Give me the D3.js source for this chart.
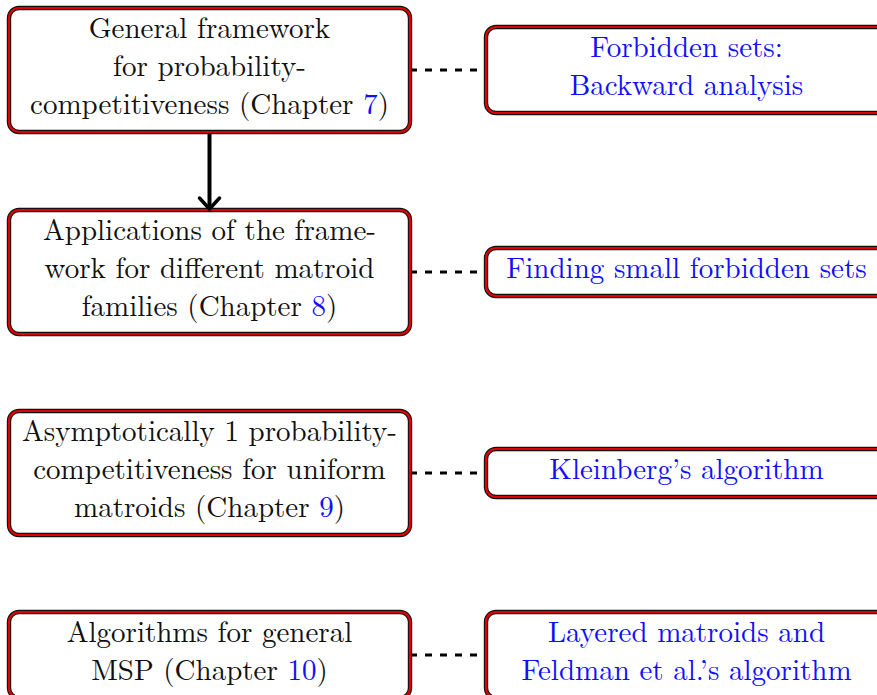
<!DOCTYPE html>
<html><head><meta charset="utf-8">
<script src="https://cdn.jsdelivr.net/npm/d3@7"></script>
<style>html,body{margin:0;padding:0;background:#fff;overflow:hidden}</style>
</head><body><svg id="c" width="877" height="695"></svg>
<script>
// Data: left boxes (chapters), right boxes (topics); {n} marks blue chapter numbers
const leftBoxes = [
  ["General framework", "for probability-", "competitiveness (Chapter {7})"],
  ["Applications of the frame-", "work for different matroid", "families (Chapter {8})"],
  ["Asymptotically 1 probability-", "competitiveness for uniform", "matroids (Chapter {9})"],
  ["Algorithms for general", "MSP (Chapter {10})"]
];
const rightBoxes = [
  ["Forbidden sets:", "Backward analysis"],
  ["Finding small forbidden sets"],
  ["Kleinberg\u2019s algorithm"],
  ["Layered matroids and", "Feldman et al.\u2019s algorithm"]
];
const rowCenters = [70, 272, 473, 655];
const arrows = [[0, 1]]; // left box 0 -> left box 1

const svg = d3.select("#c");
const lineH = 38, pad = 10;
const leftX = 9, boxW = 401, rightX = 486;
const fontFam = '"Latin Modern Roman", "Liberation Serif", serif';
const fs = 29;
const blue = "#1010ff";

function boxH(n){ return lineH * n + pad; }

function drawBox(x, cy, lines, textColor){
  const h = boxH(lines.length);
  const y = cy - h / 2;
  const g = svg.append("g");
  g.append("rect").attr("x", x).attr("y", y).attr("width", boxW).attr("height", h)
    .attr("rx", 10).attr("fill", "#fff").attr("stroke", "#111").attr("stroke-width", 4.4);
  g.append("rect").attr("x", x).attr("y", y).attr("width", boxW).attr("height", h)
    .attr("rx", 10).attr("fill", "none").attr("stroke", "#e00000").attr("stroke-width", 2.2);
  const t = g.append("text").style("font-family", fontFam).style("font-size", fs + "px")
    .attr("text-anchor", "middle").attr("fill", textColor);
  lines.forEach((ln, i) => {
    const ly = cy + (i - (lines.length - 1) / 2) * lineH + 5.5;
    const parts = ln.split(/(\{[^}]*\})/).filter(s => s.length);
    parts.forEach((p, j) => {
      const ts = t.append("tspan").text(p.replace(/[{}]/g, ""));
      if (j === 0) ts.attr("x", x + boxW / 2).attr("y", ly);
      if (p.startsWith("{")) ts.attr("fill", blue);
    });
  });
  return {x, y, h, cy};
}

// connectors first (under boxes)
const connG = svg.append("g");
rowCenters.forEach(cy => {
  connG.append("line").attr("x1", leftX + boxW).attr("x2", rightX).attr("y1", cy).attr("y2", cy)
    .attr("stroke", "#000").attr("stroke-width", 3).attr("stroke-dasharray", "7,8");
});

const L = leftBoxes.map((lines, i) => drawBox(leftX, rowCenters[i], lines, "#111"));
rightBoxes.forEach((lines, i) => drawBox(rightX, rowCenters[i], lines, blue));

// arrows
arrows.forEach(([a, b]) => {
  const x = leftX + boxW / 2;
  const y1 = L[a].y + L[a].h + 1, y2 = L[b].y - 1;
  svg.append("line").attr("x1", x).attr("x2", x).attr("y1", y1).attr("y2", y2 - 1)
    .attr("stroke", "#000").attr("stroke-width", 4);
  svg.append("path").attr("d", d3.line()([[x - 10, y2 - 11], [x, y2], [x + 10, y2 - 11]]))
    .attr("fill", "none").attr("stroke", "#000").attr("stroke-width", 3.5)
    .attr("stroke-linecap", "round").attr("stroke-linejoin", "round");
});
</script></body></html>
